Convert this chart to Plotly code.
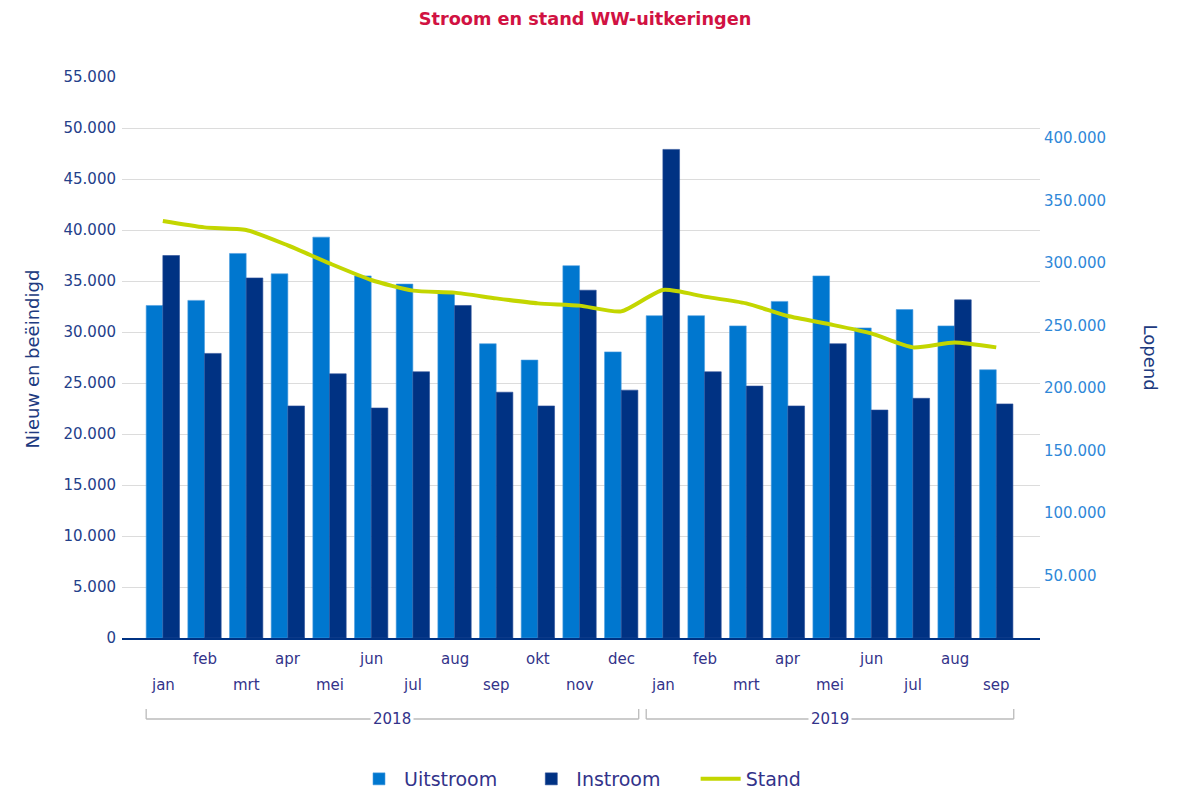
import plotly.graph_objects as go

months = ["jan", "feb", "mrt", "apr", "mei", "jun", "jul", "aug", "sep", "okt", "nov", "dec",
          "jan", "feb", "mrt", "apr", "mei", "jun", "jul", "aug", "sep"]
years = ["2018"] * 12 + ["2019"] * 9
uitstroom = [32600, 33100, 37700, 35700, 39300, 35500, 34700, 33800, 28850, 27250, 36500, 28050,
             31600, 31600, 30600, 33000, 35500, 30400, 32200, 30600, 26300]
instroom = [37500, 27900, 35300, 22750, 25900, 22550, 26100, 32600, 24100, 22750, 34100, 24300,
            47900, 26100, 24700, 22750, 28850, 22350, 23500, 33150, 22950]
stand = [333600, 328500, 326400, 314100, 299700, 286400, 277900, 276300, 271700, 267700, 265900, 261300,
         278400, 273100, 267700, 257600, 251000, 243700, 232500, 236500, 232500]
left_ticks = list(range(0, 55001, 5000))
right_ticks = list(range(50000, 400001, 50000))

FONT = "DejaVu Sans, Verdana, sans-serif"
LIGHT = "#0077cf"
DARK = "#003283"
LINE = "#c3d600"
LBL = "#33338a"

idx = list(range(len(months)))

fig = go.Figure()
fig.add_trace(go.Bar(x=idx, y=uitstroom, name="Uitstroom" + "\u00a0" * 4,
                     marker=dict(color=LIGHT, line=dict(width=0.6, color="#4d9ee0"))))
fig.add_trace(go.Bar(x=idx, y=instroom, name="Instroom" + "\u00a0" * 5,
                     marker=dict(color=DARK, line=dict(width=0.6, color="#2a4f99"))))
fig.add_trace(go.Scatter(x=idx, y=stand, name="Stand", yaxis="y2", mode="lines",
                         line=dict(color=LINE, width=4, shape="spline", smoothing=0.6)))

# plot area (page px): x 122..1040, y 77..638 ; page offset 8px (body margin)
def py(y_page):
    return (638 - y_page) / 561.0

annotations = []
for i, m in enumerate(months):
    yy = py(659) if i % 2 == 1 else py(685)
    annotations.append(dict(x=i, y=yy, xref="x", yref="paper", text=m, showarrow=False,
                            font=dict(family=FONT, size=15, color=LBL), yanchor="middle"))

shapes = []
groups = {}
for i, y in enumerate(years):
    groups.setdefault(y, []).append(i)
for y, ids in groups.items():
    x0 = ids[0] - 0.4
    x1 = ids[-1] + 0.42
    shapes.append(dict(type="line", xref="x", yref="paper", x0=x0, x1=x1, y0=py(719), y1=py(719),
                       line=dict(color="#bbbbbb", width=1.3)))
    for xx in (x0, x1):
        shapes.append(dict(type="line", xref="x", yref="paper", x0=xx, x1=xx, y0=py(709), y1=py(719),
                           line=dict(color="#bbbbbb", width=1.3)))
    annotations.append(dict(x=(x0 + x1) / 2, y=py(719), xref="x", yref="paper", text=y, showarrow=False,
                            bgcolor="white", borderpad=2,
                            font=dict(family=FONT, size=15, color=LBL), yanchor="middle"))

annotations.append(dict(x=(19 - 122) / 918.0, y=py(359), xref="paper", yref="paper", text="Nieuw en beëindigd",
                        showarrow=False, textangle=-90, font=dict(family=FONT, size=18, color="#203a80")))
annotations.append(dict(x=(1163 - 122) / 918.0, y=py(357), xref="paper", yref="paper", text="Lopend",
                        showarrow=False, textangle=90, font=dict(family=FONT, size=18, color="#203a80")))

fig.update_layout(
    width=1173, height=784,
    margin=dict(l=114, r=141, t=69, b=154, autoexpand=False),
    paper_bgcolor="white", plot_bgcolor="white",
    separators=",.",
    title=dict(text="<b>Stroom en stand WW-uitkeringen</b>", x=(585 - 8) / 1173.0, xanchor="center",
               y=1 - (19 - 8) / 784.0, yanchor="middle",
               font=dict(family=FONT, size=17.7, color="#d11242")),
    barmode="group", bargap=0.2, bargroupgap=0,
    xaxis=dict(range=[-0.98, 21.05], showticklabels=False, showgrid=False, zeroline=False,
               showline=True, linecolor=DARK, linewidth=2, ticks=""),
    yaxis=dict(range=[0, 55000], tickvals=left_ticks, tickformat=",d", showgrid=True, gridcolor="#dcdcdc",
               gridwidth=1, zeroline=False, showline=False, ticks="", ticklabelstandoff=5,
               tickfont=dict(family=FONT, size=15, color="#24408a")),
    yaxis2=dict(range=[0, 448800], overlaying="y", side="right", tickvals=right_ticks, tickformat=",d",
                showgrid=False, zeroline=False, showline=False, ticks="", ticklabelstandoff=3,
                tickfont=dict(family=FONT, size=15, color="#2f88d8")),
    legend=dict(orientation="h", x=(580 - 122) / 918.0, xanchor="center", y=py(779), yanchor="middle",
                font=dict(family=FONT, size=19, color=LBL), traceorder="normal", itemwidth=40),
    annotations=annotations,
    shapes=shapes,
    showlegend=True,
)

fig.write_html("out.html")
